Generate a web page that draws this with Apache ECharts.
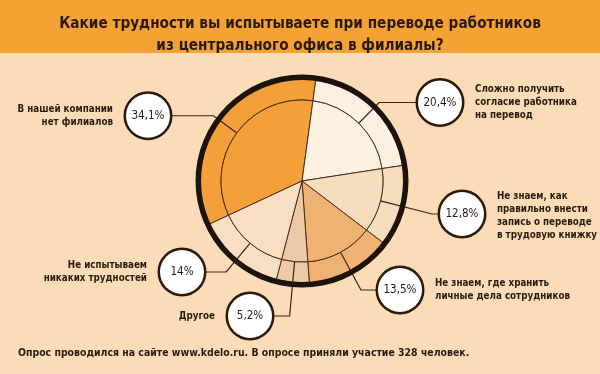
<!DOCTYPE html>
<html><head><meta charset="utf-8">
<script src="https://cdn.jsdelivr.net/npm/echarts@6/dist/echarts.min.js"></script>
<style>html,body{margin:0;padding:0;background:#fbdcb9}#c{width:600px;height:374px}</style>
</head><body><div id="c"></div>
<script>
// ---- data ----
var categories = [
  'В нашей компании нет филиалов',
  'Сложно получить согласие работника на перевод',
  'Не знаем, как правильно внести запись о переводе в трудовую книжку',
  'Не знаем, где хранить личные дела сотрудников',
  'Другое',
  'Не испытываем никаких трудностей'
];
var values = [34.1, 20.4, 12.8, 13.5, 5.2, 14];
var categoryLines = [
  ['В нашей компании', 'нет филиалов'],
  ['Сложно получить', 'согласие работника', 'на перевод'],
  ['Не знаем, как', 'правильно внести', 'запись о переводе', 'в трудовую книжку'],
  ['Не знаем, где хранить', 'личные дела сотрудников'],
  ['Другое'],
  ['Не испытываем', 'никаких трудностей']
];
var titleText = 'Какие трудности вы испытываете при переводе работников\nиз центрального офиса в филиалы?';
var footnote = 'Опрос проводился на сайте www.kdelo.ru. В опросе приняли участие 328 человек.';

// ---- styles / layout ----
var sliceColors = ['#f4a03a', '#fcf0e2', '#f8dcc0', '#f0b272', '#ecc9a7', '#f9dec4'];
var DARK = '#2b1a0c';
var CENTER = [302, 181];
var R_IN = 81, R_OUT = 102;
var BUBBLE_R = 22;
var bubbleCenters = [[148, 135], [440, 108], [462, 214], [400, 290], [250, 316], [182, 272]];

function hasFont(name) {
  var c = document.createElement('canvas').getContext('2d');
  var s = 'абвгдежзийклмнопрстуфхцчшщыьэюя WWWmmmiii 0123';
  var res = false;
  ['monospace', 'serif'].forEach(function (b) {
    c.font = '40px ' + b; var w1 = c.measureText(s).width;
    c.font = '40px "' + name + '", ' + b; var w2 = c.measureText(s).width;
    if (Math.abs(w1 - w2) > 0.5) res = true;
  });
  return res;
}
var FONT = 'Roboto';
['Liberation Sans Narrow', 'DejaVu Sans Condensed', 'Roboto Condensed', 'Arial Narrow', 'Roboto'].some(function (f) {
  if (hasFont(f)) { FONT = f; return true; } return false;
});
var mctx = document.createElement('canvas').getContext('2d');
function fitSize(text, weight, base, target) {
  mctx.font = weight + ' ' + base + 'px "' + FONT + '"';
  var w = mctx.measureText(text).width;
  var s = base * target / w;
  return Math.max(base * 0.7, Math.min(base * 1.2, s));
}
var titleSize = fitSize('Какие трудности вы испытываете при переводе работников', 'bold', 17, 482);
var descSize = fitSize('согласие работника', 'bold', 12.5, 102);
var footSize = fitSize(footnote, 'bold', 12, 452);
var pctSize = fitSize('34,1%', 'normal', 14, 33);

var data = values.map(function (v, i) {
  return { name: categories[i], value: v, itemStyle: { color: sliceColors[i] } };
});

var placed = [];
var MIN_T = 29;
function layoutFn(p) {
  var b = bubbleCenters[p.dataIndex];
  var pts = p.labelLinePoints;
  if (!pts || pts.length < 2) { placed[p.dataIndex] = { x: b[0], y: b[1], left: b[0] < CENTER[0] }; return { x: b[0], y: b[1], align: 'center', verticalAlign: 'middle' }; }
  var p0 = pts[0], p1 = pts[1];
  var dx = p1[0] - p0[0], dy = p1[1] - p0[1];
  var L = Math.sqrt(dx * dx + dy * dy) || 1; dx /= L; dy /= L;
  var by = b[1];
  var t = Math.abs(dy) > 0.05 ? (by - p0[1]) / dy : -1;
  if (!(t >= MIN_T)) { t = MIN_T; by = p0[1] + dy * t; }
  var E = [p0[0] + dx * t, p0[1] + dy * t];
  var left = b[0] < E[0];
  var end = [b[0] + (left ? BUBBLE_R : -BUBBLE_R), by];
  placed[p.dataIndex] = { x: b[0], y: by, left: left };
  return { x: b[0], y: by, align: 'center', verticalAlign: 'middle', labelLinePoints: [p0, E, end] };
}

var common = {
  type: 'pie', center: CENTER, startAngle: 205, clockwise: true,
  animation: false, silent: true, avoidLabelOverlap: false, data: data
};
var chart = echarts.init(document.getElementById('c'), null, { renderer: 'canvas' });
var option = {
  backgroundColor: '#fbdcb9',
  animation: false,
  title: {
    text: titleText, left: 'center', top: 8,
    textStyle: { fontFamily: FONT, fontSize: titleSize, fontWeight: 'bold', color: DARK, lineHeight: 22 }
  },
  graphic: [
    { type: 'rect', z: -10, shape: { x: 0, y: 0, width: 600, height: 53 }, style: { fill: '#f5a235' } }
  ],
  series: [
    Object.assign({}, common, {
      name: 'band', radius: [R_IN, R_OUT], z: 2,
      label: { show: false }, labelLine: { show: false },
      itemStyle: { borderColor: '#4a2e18', borderWidth: 1 }
    }),
    Object.assign({}, common, {
      name: 'core', radius: [0, R_IN], z: 3,
      itemStyle: { borderColor: '#4a2e18', borderWidth: 1 },
      label: {
        show: true, position: 'outside',
        formatter: function (p) { return String(p.value).replace('.', ',') + '%'; },
        fontFamily: FONT, fontSize: pctSize, color: DARK,
        width: BUBBLE_R * 2, height: BUBBLE_R * 2, lineHeight: BUBBLE_R * 2,
        align: 'center', verticalAlign: 'middle', padding: 0,
        backgroundColor: '#ffffff', borderColor: DARK, borderWidth: 2.5, borderRadius: BUBBLE_R,
        distanceToLabelLine: 0
      },
      labelLine: { show: true, length: 20, length2: 10, lineStyle: { color: '#3a2313', width: 1.2 } },
      labelLayout: layoutFn
    }),
    {
      type: 'pie', name: 'ring', center: CENTER, radius: [101, 106.5], z: 4,
      silent: true, animation: false,
      data: [{ value: 1, name: '', itemStyle: { color: '#1e130a' } }],
      label: { show: false }, labelLine: { show: false }
    }
  ]
};
chart.setOption(option);

var g = [{ type: 'rect', z: -10, shape: { x: 0, y: 0, width: 600, height: 53 }, style: { fill: '#f5a235' } }];
categoryLines.forEach(function (lines, i) {
  var b = placed[i] || { x: bubbleCenters[i][0], y: bubbleCenters[i][1], left: bubbleCenters[i][0] < CENTER[0] };
  var dy = (i === 2) ? 2 : 0;
  g.push({
    type: 'text', z: 10,
    x: b.x + (b.left ? -35 : 35), y: b.y + dy,
    style: {
      text: lines.join('\n'), fill: DARK,
      font: 'bold ' + descSize + 'px "' + FONT + '"',
      lineHeight: 13, align: b.left ? 'right' : 'left', verticalAlign: 'middle'
    }
  });
});
g.push({
  type: 'text', z: 10, x: 18, y: 353,
  style: { text: footnote, fill: DARK, font: 'bold ' + footSize + 'px "' + FONT + '"', verticalAlign: 'middle' }
});
chart.setOption({ graphic: g }, { replaceMerge: ['graphic'] });
</script>
</body></html>
